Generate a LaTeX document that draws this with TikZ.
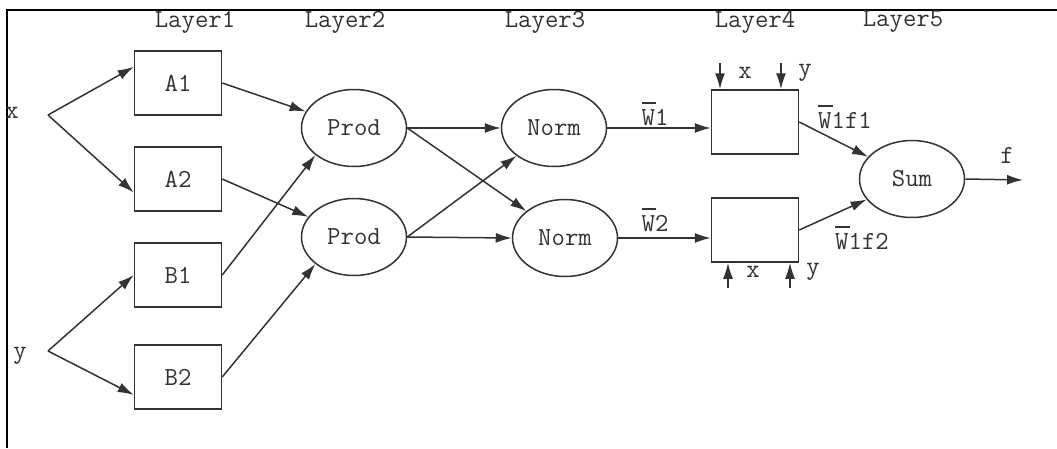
\documentclass[tikz,border=0pt]{standalone}
\usepackage{fontspec}
\usetikzlibrary{arrows.meta,shapes,calc}
\newcommand{\barW}{\leavevmode\rlap{\rule[0.85em]{0.55em}{0.06em}}W}

\begin{document}
\begin{tikzpicture}[x=1pt,y=-1pt]
                    \tikzstyle{every node}+=[inner sep=0pt, font=\ttfamily\fontsize{26}{28}\selectfont, text=black!80]
                    \tikzstyle{unit}=[draw=black!80, line width=1.5pt, minimum width=87pt, minimum height=64pt]
                    \tikzstyle{oval}=[draw=black!80, line width=1.5pt, ellipse, minimum width=105pt, minimum height=77pt]
                    \tikzstyle{conn}=[draw=black!80, line width=1.5pt, -{Latex[length=16pt,width=10pt]}]
                    \useasboundingbox (0,0) rectangle (1057,448);
                    \draw [black, line width=1.6pt] (7,448) -- (7,10) -- (1057,10);
                    \node (L1) at (195,22) {Layer1};
                    \node (L2) at (345,22) {Layer2};
                    \node (L3) at (545,22) {Layer3};
                    \node (L4) at (755,22) {Layer4};
                    \node (L5) at (903,22) {Layer5};
                    \node (xin) at (12,113) {x};
                    \node (yin) at (20,356) {y};
                    \coordinate (xs) at (48,115);
                    \coordinate (ys) at (48,351);
                    \node [unit] (A1) at (178,83) {A1};
                    \node [unit] (A2) at (178,179) {A2};
                    \node [unit] (B1) at (178,275) {B1};
                    \node [unit] (B2) at (178,377) {B2};
                    \node [oval] (P1) at (354,128) {Prod};
                    \node [oval] (P2) at (354,237) {Prod};
                    \node [oval] (N1) at (554,128) {Norm};
                    \node [oval] (N2) at (565,238) {Norm};
                    \node [unit] (R1) at (755,122) {};
                    \node [unit] (R2) at (755,230) {};
                    \node [oval] (S) at (912,179) {Sum};
                    \draw [conn] (xs) -- (A1.160);
                    \draw [conn] (xs) -- (A2.197);
                    \draw [conn] (ys) -- (B1.west);
                    \draw [conn] (ys) -- (B2.202);
                    \draw [conn] (A1.east) -- (P1);
                    \draw [conn] (A2.east) -- (P2);
                    \draw [conn] (B1.east) -- (P1.215);
                    \draw [conn] (B2.east) -- (P2.215);
                    \draw [conn] (P1.east) -- (N1.west);
                    \draw [conn] (P1.east) -- (N2);
                    \draw [conn] (P2.east) -- (N1);
                    \draw [conn] (P2.east) -- (N2.west);
                    \draw [conn] (N1.east) -- (N1.east -| R1.west);
                    \draw (655,114) node (w1) {\barW1};
                    \draw [conn] (N2.east) -- (N2.east -| R2.west);
                    \draw (655,220) node (w2) {\barW2};
                    \coordinate (tx) at (720,63);
                    \coordinate (ty) at (781,63);
                    \draw [conn] (tx) -- (tx |- R1.north);
                    \draw [conn] (ty) -- (ty |- R1.north);
                    \draw (745,73) node (txl) {x};
                    \draw (805,73) node (tyl) {y};
                    \coordinate (bx) at (728,288);
                    \coordinate (by) at (790,288);
                    \draw [conn] (bx) -- (bx |- R2.south);
                    \draw [conn] (by) -- (by |- R2.south);
                    \draw (753,272) node (bxl) {x};
                    \draw (813,272) node (byl) {y};
                    \draw [conn] (R1.east) -- (S);
                    \draw (845,117) node (w1f1) {\barW1f1};
                    \draw [conn] (R2.east) -- (S);
                    \draw (862,238) node (w1f2) {\barW1f2};
                    \coordinate (fo) at (1023,180);
                    \draw [conn] (S.east) -- (fo);
                    \draw (1007,155) node (fl) {f};
                \end{tikzpicture}
\end{document}
